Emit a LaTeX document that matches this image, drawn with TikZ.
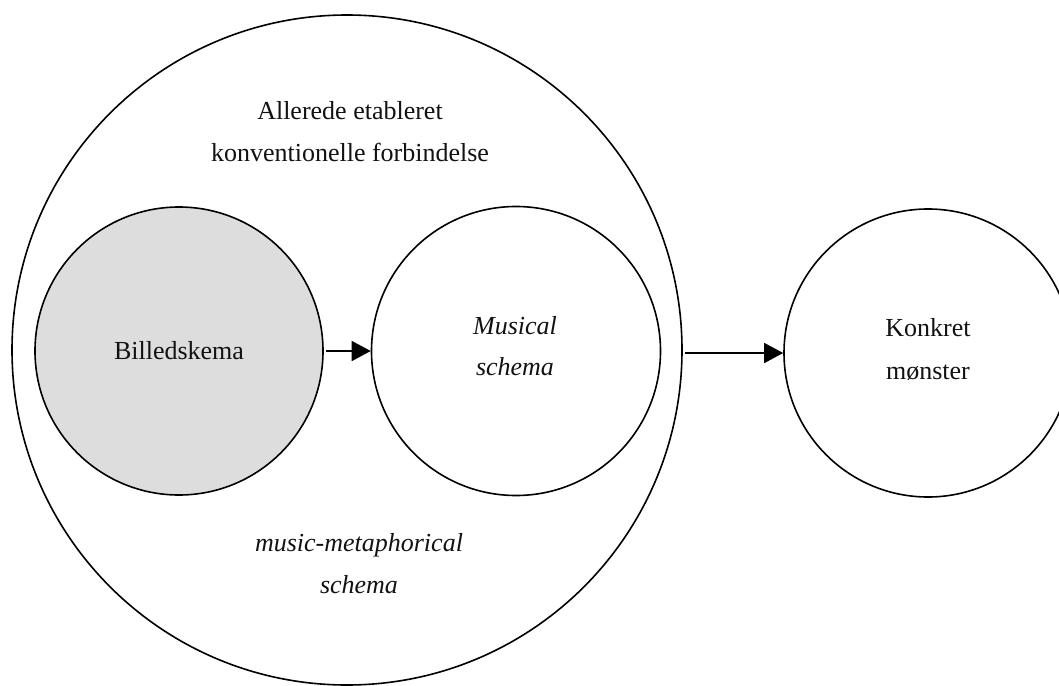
\documentclass[tikz,border=0pt]{standalone}
\usepackage{fontspec}
\setmainfont{Liberation Serif}
\usetikzlibrary{arrows.meta}
\begin{document}
\begin{tikzpicture}[x=1pt,y=-1pt,
  ring/.style={circle, draw=black, line width=1.6pt, inner sep=0pt},
  lbl/.style={font=\fontsize{26}{42}\selectfont, text=black!93, align=center, inner sep=0pt},
  conn/.style={line width=1.5pt, -{Triangle[length=19pt,width=20pt]}, shorten <=2.5pt}]
\useasboundingbox (0,0) rectangle (1059,685);
\clip (0,0) rectangle (1059,685);
\fill[white] (0,0) rectangle (1059,685);
\node[ring, minimum size=670pt] (outer) at (347,350) {};
\node[ring, fill={rgb,255:red,221;green,221;blue,221}, minimum size=288pt] (bild) at (179,351) {};
\node[ring, minimum size=289pt] (mus) at (516,351) {};
\node[ring, minimum size=288pt] (konk) at (928,353) {};
\node[lbl, anchor=base] (tbild) at (179,359) {Billedskema};
\node[lbl, anchor=base, font=\fontsize{26}{41}\selectfont\itshape] (tmus) at (515,375) {Musical\\schema};
\node[lbl, anchor=base, font=\fontsize{26}{43}\selectfont] (tkonk) at (928,379) {Konkret\\mønster};
\node[lbl, anchor=base] (ttop) at (350,161.5) {Allerede etableret\\konventionelle forbindelse};
\node[lbl, anchor=base, font=\fontsize{26}{42}\selectfont\itshape] (tbot) at (359,593) {music-metaphorical\\schema};
\draw[conn] (bild.east) -- (mus.west);
\draw[conn] (outer.east |- konk.west) -- (konk.west);
\end{tikzpicture}
\end{document}
